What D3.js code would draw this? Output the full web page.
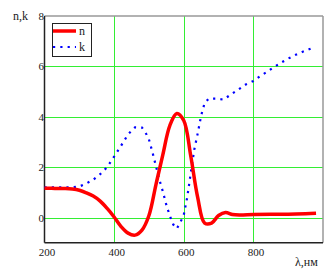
<!DOCTYPE html>
<html>
  <head>
    <title>n,k</title>
    <script src="https://d3js.org/d3.v7.min.js"></script>
    <style>
      body { margin: 0; background: #fff; }
      text { font-family: "Liberation Serif", "DejaVu Serif", serif; fill: #222; }
    </style>
  </head>
<body>
  <svg id="chart" width="332" height="275"></svg>
<script type="text/javascript">
    // wavelengths (nm) and values
    var lambdaN = [200, 220, 240, 260, 280, 300, 320, 340, 360, 380, 400, 420, 440, 460, 480,
                   500, 520, 540, 560, 580, 600, 620, 640, 660, 680, 700, 720, 740, 760,
                   800, 850, 900, 950, 980];
    var nValues = [1.16, 1.16, 1.15, 1.15, 1.13, 1.08, 0.98, 0.85, 0.65, 0.36, 0.02, -0.36, -0.62, -0.70, -0.50,
                   0.08, 1.3, 2.5, 3.65, 4.13, 3.85, 2.45, 0.8, -0.22, -0.22, 0.08, 0.2, 0.12, 0.1,
                   0.12, 0.13, 0.13, 0.15, 0.17];

    var lambdaK = [200, 240, 280, 300, 320, 340, 360, 380, 400, 420, 440, 460, 480, 490,
                   500, 510, 520, 530, 540, 550, 560, 570, 580, 590, 600, 610, 620, 630, 640,
                   650, 660, 672, 693, 714, 735, 757, 778, 800, 820, 840, 860, 880, 900,
                   920, 940, 960, 975];
    var kValues = [1.2, 1.2, 1.2, 1.23, 1.35, 1.5, 1.72, 2.0, 2.42, 2.85, 3.3, 3.58, 3.57, 3.38,
                   3.1, 2.6, 2.05, 1.5, 1.03, 0.5, 0.07, -0.28, -0.44, -0.2, 0.1, 0.8, 1.75, 2.68, 3.33,
                   4.05, 4.55, 4.72, 4.72, 4.68, 4.88, 5.08, 5.28, 5.42, 5.62, 5.79, 5.98, 6.15, 6.31,
                   6.45, 6.57, 6.68, 6.76];

    var xTicks = [200, 400, 600, 800];
    var yTicks = [0, 2, 4, 6, 8];

    var svg = d3.select("#chart");

    var x = d3.scaleLinear().domain([200, 1000]).range([44.5, 323]);
    var y = d3.scaleLinear().domain([-1, 8]).range([242.7, 16]);

    // green grid
    svg.append("g")
        .selectAll("line.vg")
        .data([400, 600, 800])
        .enter().append("line")
        .attr("x1", function(d) { return Math.round(x(d)) + 0.5; })
        .attr("x2", function(d) { return Math.round(x(d)) + 0.5; })
        .attr("y1", y(8)).attr("y2", y(-1))
        .attr("stroke", "#33ee33").attr("stroke-width", 1);

    svg.append("g")
        .selectAll("line.hg")
        .data([0, 2, 4, 6])
        .enter().append("line")
        .attr("y1", function(d) { return Math.round(y(d)) + 0.5; })
        .attr("y2", function(d) { return Math.round(y(d)) + 0.5; })
        .attr("x1", x(200)).attr("x2", x(1000))
        .attr("stroke", "#33ee33").attr("stroke-width", 1);

    // frame: top/right grey, left/bottom dark
    svg.append("line").attr("x1", x(200)).attr("x2", x(1000)).attr("y1", y(8)).attr("y2", y(8))
        .attr("stroke", "#999").attr("stroke-width", 1.5);
    svg.append("line").attr("x1", x(1000)).attr("x2", x(1000)).attr("y1", y(8)).attr("y2", y(-1))
        .attr("stroke", "#999").attr("stroke-width", 1.5);
    svg.append("line").attr("x1", x(200)).attr("x2", x(200)).attr("y1", y(8)).attr("y2", y(-1))
        .attr("stroke", "#222").attr("stroke-width", 1.5);
    svg.append("line").attr("x1", x(200)).attr("x2", x(1000)).attr("y1", y(-1)).attr("y2", y(-1))
        .attr("stroke", "#222").attr("stroke-width", 1.5);

    // tick labels
    svg.append("g")
        .selectAll("text")
        .data(xTicks)
        .enter().append("text")
        .attr("x", function(d) { return x(d) + 2.5; })
        .attr("y", 256)
        .attr("text-anchor", "middle")
        .style("font-size", "11px")
        .text(function(d) { return d; });

    svg.append("g")
        .selectAll("text")
        .data(yTicks)
        .enter().append("text")
        .attr("x", 44)
        .attr("y", function(d) { return y(d) + 4; })
        .attr("text-anchor", "end")
        .style("font-size", "11px")
        .text(function(d) { return d; });

    svg.append("text").attr("x", 13).attr("y", 20)
        .style("font-size", "12px").text("n,k");
    svg.append("text").attr("x", 295).attr("y", 266)
        .style("font-size", "12px").text("λ,нм");

    // curves
    var lineN = d3.line()
        .x(function(d, i) { return x(lambdaN[i]); })
        .y(function(d) { return y(d); })
        .curve(d3.curveCatmullRom.alpha(0.5));

    var lineK = d3.line()
        .x(function(d, i) { return x(lambdaK[i]); })
        .y(function(d) { return y(d); });

    svg.append("path")
        .datum(kValues)
        .attr("d", lineK)
        .attr("fill", "none")
        .attr("stroke", "#0000ff")
        .attr("stroke-width", 2.2)
        .attr("stroke-dasharray", "2.2,5.1");

    svg.append("path")
        .datum(nValues)
        .attr("d", lineN)
        .attr("fill", "none")
        .attr("stroke", "#ff0000")
        .attr("stroke-width", 3.5)
        .attr("stroke-linejoin", "round");

    // legend
    var lg = svg.append("g");
    lg.append("rect").attr("x", 52.5).attr("y", 23.5).attr("width", 39).attr("height", 33)
        .attr("fill", "#fff").attr("stroke", "#222").attr("stroke-width", 1);
    lg.append("line").attr("x1", 53).attr("x2", 76).attr("y1", 31).attr("y2", 31)
        .attr("stroke", "#ff0000").attr("stroke-width", 3.5);
    lg.append("line").attr("x1", 53).attr("x2", 76).attr("y1", 47).attr("y2", 47)
        .attr("stroke", "#0000ff").attr("stroke-width", 2.2).attr("stroke-dasharray", "2.2,5.1");
    lg.append("text").attr("x", 79).attr("y", 35).style("font-size", "12px").text("n");
    lg.append("text").attr("x", 79).attr("y", 51).style("font-size", "12px").text("k");
</script>
</body>
</html>
